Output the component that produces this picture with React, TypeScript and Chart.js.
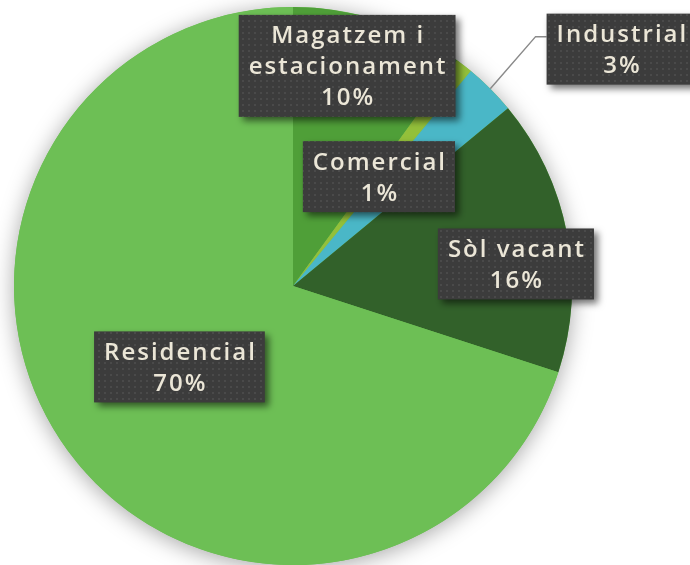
import React, { useEffect, useRef } from "react";
import { Chart, registerables } from "chart.js";

Chart.register(...registerables);

// ---- data ----
const categories = ["Magatzem i estacionament", "Comercial", "Industrial", "Sòl vacant", "Residencial"];
const labelLines = [["Magatzem i", "estacionament"], ["Comercial"], ["Industrial"], ["Sòl vacant"], ["Residencial"]];
const values = [10, 1, 3, 16, 70];
const colors = ["#4f9f38", "#93c03a", "#4ab7c7", "#32612a", "#6dbf55"];

// ---- layout (label box centres, relative to pie centre in units of radius) ----
const LABEL_ANCHORS: [number, number][] = [
  [0.194, -0.789],
  [0.308, -0.392],
  [1.177, -0.849],
  [0.799, -0.079],
  [-0.407, 0.29],
];
const LEADER = [false, false, true, false, false];

function makePattern(ctx: CanvasRenderingContext2D) {
  const c = document.createElement("canvas");
  c.width = 6;
  c.height = 6;
  const p = c.getContext("2d")!;
  p.fillStyle = "#3c3c3c";
  p.fillRect(0, 0, 6, 6);
  p.fillStyle = "#4a4a4a";
  p.fillRect(2, 2, 2, 2);
  return ctx.createPattern(c, "repeat")!;
}

const labelPlugin = {
  id: "boxLabels",
  beforeDatasetsDraw(chart: any) {
    const ctx: CanvasRenderingContext2D = chart.ctx;
    const arc: any = chart.getDatasetMeta(0).data[0];
    if (!arc) return;
    ctx.save();
    ctx.shadowColor = "rgba(0,0,0,0.35)";
    ctx.shadowBlur = 22;
    ctx.shadowOffsetY = 3;
    ctx.beginPath();
    ctx.arc(arc.x, arc.y, arc.outerRadius, 0, Math.PI * 2);
    ctx.fillStyle = colors[4];
    ctx.fill();
    ctx.restore();
  },
  afterDatasetsDraw(chart: any) {
    const ctx: CanvasRenderingContext2D = chart.ctx;
    const meta = chart.getDatasetMeta(0);
    const total = values.reduce((a, b) => a + b, 0);
    const pattern = makePattern(ctx);
    const lineH = 31;
    meta.data.forEach((arc: any, i: number) => {
      const cx = arc.x + LABEL_ANCHORS[i][0] * arc.outerRadius;
      const cy = arc.y + LABEL_ANCHORS[i][1] * arc.outerRadius;
      const lines = [...labelLines[i], Math.round((values[i] / total) * 100) + "%"];
      ctx.save();
      ctx.font = "600 24px 'Open Sans'";
      (ctx as any).letterSpacing = "2px";
      let maxW = 0;
      lines.forEach((l) => (maxW = Math.max(maxW, ctx.measureText(l).width - 2)));
      const w = maxW + 20;
      const h = lines.length * lineH + 9;
      const left = cx - w / 2;
      const top = cy - h / 2;

      if (LEADER[i]) {
        const mid = (arc.startAngle + arc.endAngle) / 2;
        const px = arc.x + Math.cos(mid) * arc.outerRadius;
        const py = arc.y + Math.sin(mid) * arc.outerRadius;
        ctx.strokeStyle = "#8a8a8a";
        ctx.lineWidth = 1.5;
        ctx.beginPath();
        ctx.moveTo(px, py);
        ctx.lineTo(left - 11, top + 23);
        ctx.lineTo(left, top + 23);
        ctx.stroke();
      }

      ctx.shadowColor = "rgba(0,0,0,0.55)";
      ctx.shadowBlur = 7;
      ctx.shadowOffsetX = 4;
      ctx.shadowOffsetY = 4;
      ctx.fillStyle = pattern;
      ctx.fillRect(left, top, w, h);
      ctx.shadowColor = "transparent";
      ctx.shadowBlur = 0;
      ctx.shadowOffsetX = 0;
      ctx.shadowOffsetY = 0;

      ctx.fillStyle = "#ebe6d7";
      ctx.textAlign = "center";
      ctx.textBaseline = "alphabetic";
      lines.forEach((l, k) => {
        ctx.fillText(l, cx + 1, top + 28.5 + k * lineH);
      });
      ctx.restore();
    });
  },
};

export default function App() {
  const ref = useRef<HTMLCanvasElement>(null);
  useEffect(() => {
    const chart = new Chart(ref.current!, {
      type: "pie",
      data: {
        labels: categories,
        datasets: [
          {
            data: values,
            backgroundColor: colors,
            borderWidth: 0,
            hoverOffset: 0,
            offset: 0,
          },
        ],
      },
      options: {
        animation: false,
        responsive: false,
        layout: { padding: { left: 14, right: 118, top: 7, bottom: 0 } },
        plugins: {
          legend: { display: false },
          tooltip: { enabled: false },
        },
      },
      plugins: [labelPlugin],
    });
    return () => chart.destroy();
  }, []);
  return (
    <div style={{ position: "absolute", left: 0, top: 0, width: 690, height: 565, background: "#fff" }}>
      <canvas ref={ref} width={690} height={565} />
    </div>
  );
}
